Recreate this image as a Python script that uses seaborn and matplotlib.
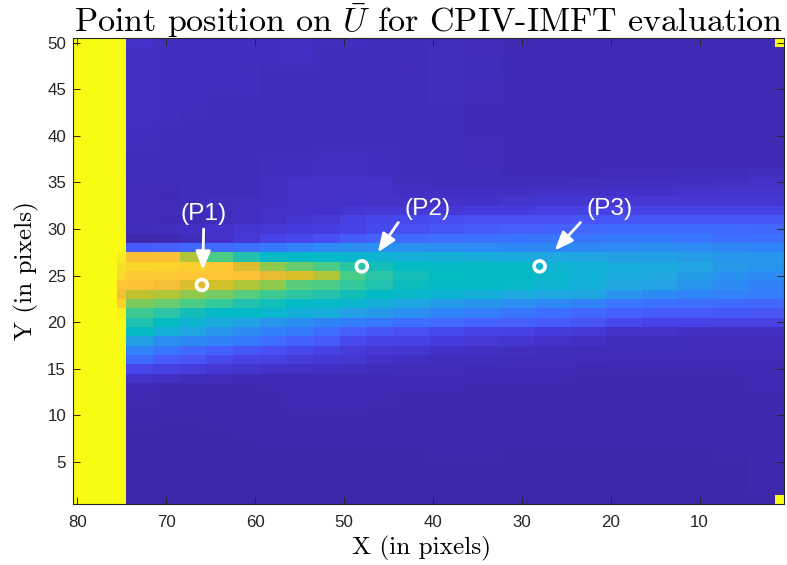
import numpy as np
import pandas as pd
import matplotlib
matplotlib.use("Agg")
import matplotlib.pyplot as plt
from matplotlib.colors import LinearSegmentedColormap
import seaborn as sns

# Column blocks, from X=74 leftmost down to X=1 (number of columns sharing a reading)
block_widths = [3, 3, 3, 3, 3, 3, 3, 3, 3, 3, 4, 4, 4, 4, 4, 4, 4, 4, 4, 4, 4]

# Values, in thousandths of the colour range
upper_rows = [  # Y = 50 .. 30
    [50, 38, 38, 38, 36, 38, 40, 32, 36, 30, 30, 30, 26, 22, 20, 18, 18, 18, 18, 18, 18],
    [42, 38, 38, 38, 36, 38, 40, 30, 30, 30, 30, 32, 26, 22, 20, 18, 18, 18, 18, 18, 18],
    [40, 38, 38, 38, 34, 32, 38, 30, 30, 30, 26, 32, 28, 22, 20, 18, 18, 18, 18, 18, 18],
    [40, 38, 38, 38, 34, 30, 30, 30, 30, 30, 26, 32, 28, 22, 20, 18, 18, 18, 18, 18, 18],
    [40, 38, 38, 38, 38, 30, 30, 30, 30, 30, 28, 32, 26, 22, 20, 18, 18, 18, 18, 18, 18],
    [40, 38, 36, 32, 36, 30, 30, 30, 30, 30, 30, 32, 26, 22, 20, 18, 18, 18, 18, 18, 18],
    [40, 38, 36, 30, 30, 30, 30, 30, 30, 30, 30, 32, 24, 22, 20, 18, 18, 18, 18, 18, 18],
    [40, 38, 32, 30, 30, 30, 30, 30, 30, 30, 30, 28, 22, 22, 20, 18, 18, 18, 18, 18, 18],
    [40, 36, 30, 30, 30, 30, 30, 30, 30, 30, 28, 26, 22, 20, 20, 18, 18, 18, 18, 18, 18],
    [38, 30, 30, 30, 30, 30, 30, 30, 30, 30, 28, 28, 22, 20, 20, 18, 18, 18, 18, 18, 18],
    [36, 30, 30, 30, 30, 30, 30, 30, 30, 30, 28, 28, 22, 20, 20, 18, 18, 18, 18, 18, 18],
    [34, 30, 30, 30, 30, 30, 30, 30, 30, 30, 28, 28, 24, 20, 20, 18, 18, 18, 18, 18, 18],
    [30, 30, 30, 30, 30, 30, 30, 34, 36, 32, 28, 30, 24, 20, 20, 18, 18, 18, 18, 18, 18],
    [28, 30, 30, 30, 30, 34, 38, 40, 40, 36, 30, 30, 26, 20, 20, 18, 18, 18, 18, 18, 18],
    [28, 30, 30, 30, 30, 34, 38, 40, 40, 36, 30, 30, 28, 22, 22, 22, 24, 26, 28, 30, 32],
    [26, 26, 30, 30, 30, 40, 44, 44, 44, 44, 34, 30, 30, 30, 30, 32, 34, 36, 38, 42, 45],
    [24, 20, 28, 30, 30, 42, 46, 46, 46, 44, 40, 40, 40, 42, 44, 46, 48, 50, 52, 55, 58],
    [24, 20, 30, 32, 34, 40, 44, 46, 50, 46, 46, 46, 50, 55, 60, 60, 65, 70, 70, 70, 65],
    [25, 25, 30, 30, 40, 45, 50, 50, 60, 70, 70, 70, 80, 80, 90, 90, 100, 100, 100, 100, 100],
    [25, 20, 25, 30, 40, 50, 60, 70, 90, 110, 120, 130, 140, 140, 140, 150, 160, 160, 160, 160, 160],
    [30, 32, 40, 50, 60, 68, 75, 85, 100, 120, 140, 160, 170, 180, 190, 200, 210, 210, 210, 210, 200],
]
jet_rows = [  # Y = 29 .. 14
    [10, 12, 30, 45, 70, 100, 120, 140, 170, 190, 210, 220, 230, 235, 240, 240, 250, 250, 240, 230, 230],
    [170, 180, 200, 210, 230, 250, 270, 300, 310, 320, 320, 310, 300, 290, 290, 290, 300, 310, 300, 290, 280],
    [840, 840, 720, 600, 520, 470, 470, 460, 450, 440, 420, 420, 410, 400, 390, 380, 360, 360, 350, 330, 330],
    [910, 900, 890, 870, 780, 680, 640, 600, 540, 500, 480, 470, 470, 470, 440, 430, 410, 400, 380, 350, 330],
    [870, 870, 860, 860, 850, 800, 770, 720, 600, 540, 500, 480, 470, 470, 450, 430, 400, 390, 350, 320, 300],
    [850, 830, 780, 760, 720, 680, 620, 600, 560, 520, 490, 470, 470, 460, 440, 420, 390, 370, 330, 300, 270],
    [740, 720, 680, 650, 620, 580, 550, 530, 500, 470, 460, 440, 420, 400, 390, 380, 330, 300, 280, 270, 260],
    [660, 640, 600, 560, 520, 500, 470, 460, 450, 420, 380, 350, 330, 310, 290, 270, 240, 230, 220, 210, 200],
    [580, 540, 500, 470, 470, 450, 420, 410, 360, 340, 310, 280, 260, 240, 220, 200, 180, 170, 170, 160, 150],
    [520, 480, 440, 400, 370, 330, 310, 280, 260, 240, 220, 210, 190, 180, 170, 150, 120, 100, 100, 90, 90],
    [470, 420, 380, 330, 300, 270, 250, 220, 180, 160, 140, 120, 100, 90, 80, 70, 50, 45, 40, 40, 40],
    [360, 310, 290, 270, 250, 220, 190, 170, 120, 100, 90, 80, 70, 60, 50, 40, 30, 28, 25, 25, 25],
    [270, 240, 210, 180, 160, 140, 120, 100, 80, 70, 60, 50, 40, 35, 30, 25, 25, 25, 25, 25, 25],
    [210, 170, 150, 120, 100, 90, 80, 70, 60, 50, 40, 30, 28, 26, 25, 24, 22, 22, 22, 22, 22],
    [110, 90, 80, 65, 55, 50, 45, 40, 34, 30, 26, 24, 22, 20, 20, 18, 18, 18, 18, 18, 18],
    [50, 40, 30, 25, 20, 20, 20, 20, 18, 18, 18, 16, 16, 16, 16, 14, 14, 14, 14, 14, 16],
]
lower_rows = [  # Y = 13 .. 1
    [22, 14, 12, 12, 14, 18, 18, 18, 18, 18, 16, 16, 14, 14, 14, 14, 14, 14, 14, 14, 16],
    [16, 12, 12, 12, 12, 14, 16, 18, 18, 16, 14, 14, 14, 14, 14, 14, 14, 14, 14, 14, 14],
    [14, 12, 10, 10, 10, 12, 16, 18, 16, 12, 12, 12, 12, 12, 12, 14, 14, 14, 14, 14, 14],
    [12, 10, 8, 8, 10, 10, 12, 14, 14, 12, 12, 12, 12, 12, 12, 14, 14, 14, 14, 14, 14],
    [8, 6, 6, 8, 10, 10, 12, 12, 12, 12, 12, 12, 12, 12, 12, 14, 14, 10, 10, 8, 8],
    [6, 6, 6, 6, 8, 10, 12, 12, 12, 12, 12, 12, 12, 12, 10, 14, 12, 10, 8, 8, 10],
    [6, 6, 6, 6, 6, 8, 10, 12, 14, 14, 14, 14, 12, 10, 8, 10, 8, 10, 8, 8, 10],
    [6, 6, 6, 6, 6, 6, 6, 6, 6, 6, 6, 10, 8, 6, 6, 6, 6, 6, 6, 8, 12],
    [4, 4, 4, 4, 4, 4, 4, 4, 4, 4, 4, 4, 4, 4, 4, 4, 4, 4, 4, 4, 12],
    [4, 4, 4, 4, 4, 4, 4, 4, 4, 4, 4, 4, 4, 4, 4, 4, 4, 4, 4, 4, 12],
    [4, 4, 4, 4, 4, 4, 4, 4, 4, 4, 4, 4, 4, 4, 4, 4, 4, 4, 4, 4, 12],
    [4, 4, 4, 4, 4, 4, 4, 4, 4, 4, 4, 4, 4, 4, 4, 4, 4, 4, 4, 4, 10],
    [4, 4, 4, 4, 4, 4, 4, 4, 4, 4, 4, 4, 4, 4, 4, 4, 4, 4, 4, 4, 4],
]

# Invalid (saturated) band on the left, and the reading for column X=75 near the jet
saturated_columns = [80, 79, 78, 77, 76, 75]
edge_column_y = [27, 26, 25, 24, 23, 22, 21]
edge_column_values = [960, 930, 920, 860, 830, 900, 970]
corner_cells = [(1, 50), (1, 1)]
saturated_value = 1000

# Annotated points
point_names = ["(P1)", "(P2)", "(P3)"]
point_x = [66, 48, 28]
point_y = [24, 26, 26]
label_x = [65.8, 40.6, 20.1]
label_y = [31.6, 32.2, 32.1]
arrow_from_x = [65.8, 43.9, 23.4]
arrow_from_y = [30.0, 30.7, 30.7]
arrow_to_x = [65.9, 46.2, 26.3]
arrow_to_y = [25.6, 27.5, 27.7]

x_ticks = [80, 70, 60, 50, 40, 30, 20, 10]
y_ticks = [50, 45, 40, 35, 30, 25, 20, 15, 10, 5]

# Parula anchors
parula_colors = [
    (.2422, .1504, .6603), (.2647, .1978, .7952), (.2783, .2559, .8991), (.2810, .3228, .9579),
    (.2699, .3892, .9906), (.2206, .4603, .9973), (.1786, .5289, .9682), (.1540, .5902, .9218),
    (.1248, .6459, .8883), (.0689, .6948, .8394), (.0067, .7312, .7660), (.1408, .7584, .6842),
    (.2161, .7843, .5923), (.3406, .8008, .4789), (.5044, .7993, .3480), (.6720, .7793, .2227),
    (.8203, .7498, .1535), (.9393, .7288, .2100), (.9970, .7659, .2199), (.9786, .8310, .1655),
    (.9597, .9135, .1423), (.9769, .9839, .0805),
]
parula = LinearSegmentedColormap.from_list("parula_like", parula_colors, N=256)

# Assemble the 50 x 80 field
columns = list(range(80, 0, -1))
rows = list(range(50, 0, -1))
body = np.repeat(np.array(upper_rows + jet_rows + lower_rows, dtype=float), block_widths, axis=1)
field = pd.DataFrame(body, index=rows, columns=columns[6:])
for c in reversed(saturated_columns):
    field.insert(0, c, saturated_value)
for y, v in zip(edge_column_y, edge_column_values):
    field.loc[y, 75] = v
for cx, cy in corner_cells:
    field.loc[cy, cx] = saturated_value
field = field[columns] / 1000.0

sns.set_theme(style="white")
plt.rcParams["font.family"] = ["Liberation Sans", "DejaVu Sans"]
plt.rcParams["mathtext.fontset"] = "cm"

ink = "#262626"
W, H = 787, 565
fig = plt.figure(figsize=(W / 100, H / 100), dpi=100)
ax = fig.add_axes([73 / W, 1 - 504 / H, 711 / W, 466 / H])
sns.heatmap(field, ax=ax, cmap=parula, vmin=0, vmax=1, cbar=False,
            xticklabels=False, yticklabels=False)


def col_pos(x):
    return 80 - np.asarray(x, dtype=float) + 0.5


def row_pos(y):
    return 50 - np.asarray(y, dtype=float) + 0.5


ax.set_axisbelow(False)
ax.set_xticks(col_pos(x_ticks))
ax.set_xticklabels([str(t) for t in x_ticks])
ax.set_yticks(row_pos(y_ticks))
ax.set_yticklabels([str(t) for t in y_ticks], rotation=0)
ax.tick_params(axis="both", which="major", direction="in", length=5, width=0.7,
               color=ink, labelcolor=ink, labelsize=12.2,
               top=True, right=True, bottom=True, left=True)
ax.tick_params(axis="x", pad=8)
ax.tick_params(axis="y", pad=5)
for spine in ax.spines.values():
    spine.set_visible(True)
    spine.set_color(ink)
    spine.set_linewidth(0.8)

serif = dict(family="cmr10", color="black")
ax.set_title(r"Point position on $\bar{U}$ for CPIV-IMFT evaluation",
             fontsize=24.5, pad=4, **serif)
ax.set_xlabel("X (in pixels)", fontsize=18.2, labelpad=4.5, x=0.49, **serif)
ax.set_ylabel("Y (in pixels)", fontsize=18.2, labelpad=5.5, **serif)

sns.scatterplot(x=col_pos(point_x), y=row_pos(point_y), ax=ax, s=62,
                facecolor="none", edgecolor="white", linewidth=2.6, zorder=5, legend=False)

for name, lx, ly, ax0, ay0, ax1, ay1 in zip(point_names, label_x, label_y, arrow_from_x,
                                            arrow_from_y, arrow_to_x, arrow_to_y):
    ax.text(col_pos(lx), row_pos(ly), name, color="white", fontsize=17.6,
            ha="center", va="center", zorder=6)
    ax.annotate("", xy=(col_pos(ax1), row_pos(ay1)), xytext=(col_pos(ax0), row_pos(ay0)),
                arrowprops=dict(arrowstyle="-|>,head_length=0.75,head_width=0.3", color="white",
                                lw=2.0, mutation_scale=15, shrinkA=0, shrinkB=0), zorder=6)

fig.savefig("out.png", dpi=100)
